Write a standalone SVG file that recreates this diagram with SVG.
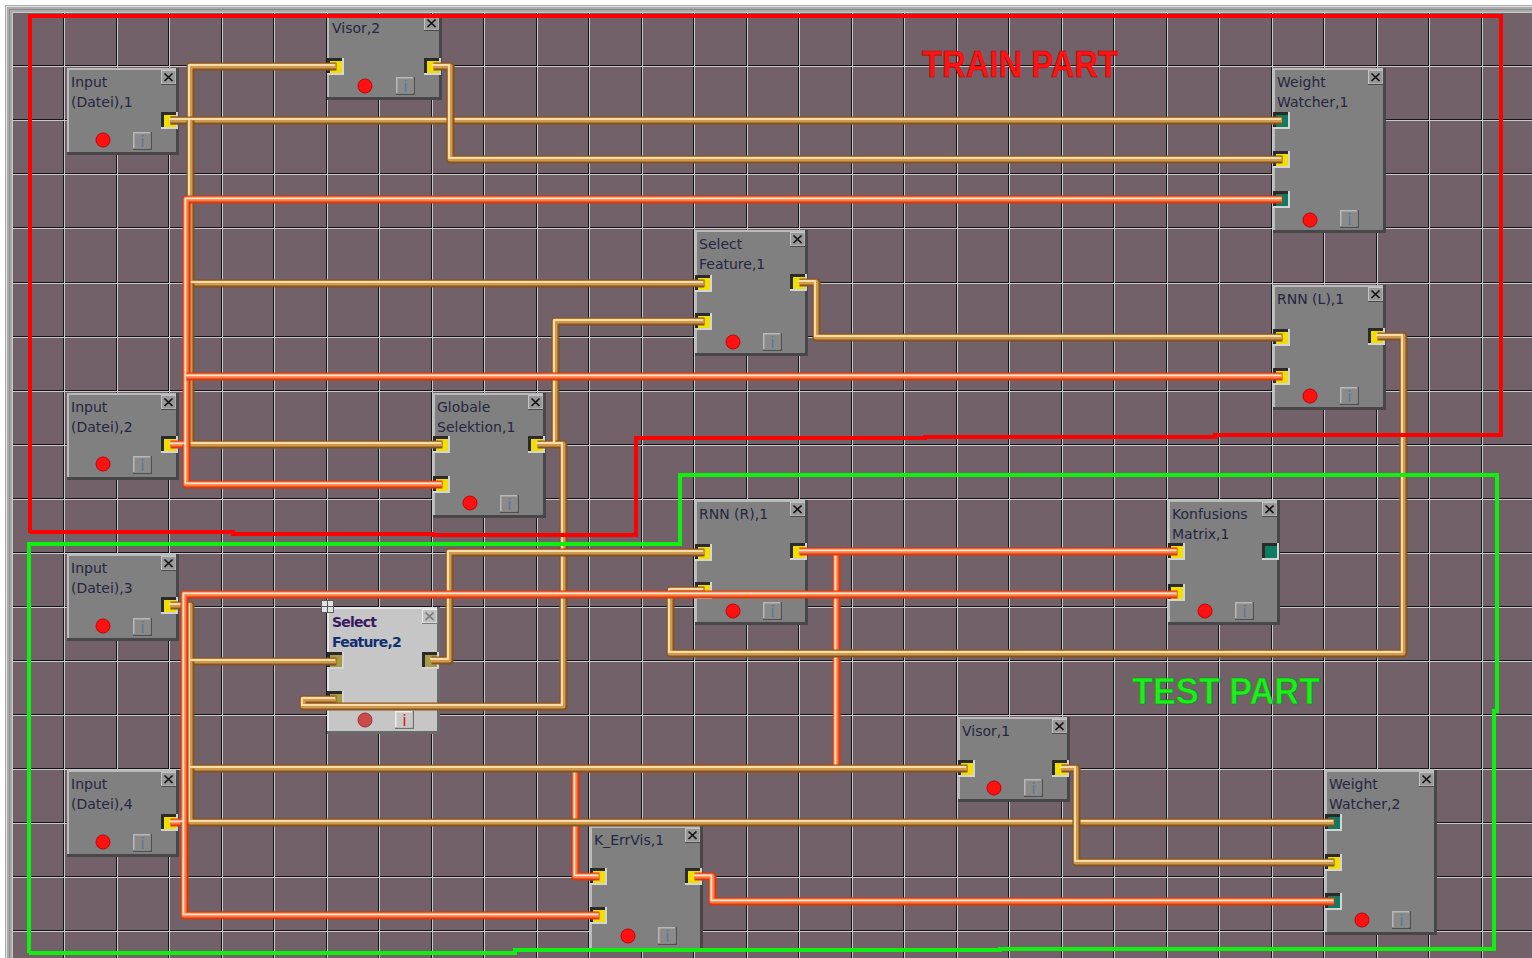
<svg xmlns="http://www.w3.org/2000/svg" xmlns:xlink="http://www.w3.org/1999/xlink" width="1532" height="958" viewBox="0 0 1532 958">
<style>
.body{fill:#808080}.hl{fill:#bababa}.sh{fill:#474747}
.t{font-family:"DejaVu Sans",sans-serif;font-size:14px;fill:#262640}
.cbd{fill:#4a4a4a}.cbl{fill:#c4c4c4}.cb{fill:#989898}.x{stroke:#111;stroke-width:1.7;fill:none}
.dot{fill:#ff1111;stroke:#c40000;stroke-width:1}
.ibd{fill:#505050}.ibl{fill:#b8b8b8}.ib{fill:#8a8a8a}
.it{font-family:"DejaVu Sans",sans-serif;font-size:16px;fill:#5d7896;text-anchor:middle}
.pl{fill:#d4d4d4}.pd{fill:#2a2a2a}.py{fill:#f2df00}.pt{fill:#0f7c62}
.sel .body{fill:#c6c6c6}.sel .hl{fill:#e6e6e6}.sel .sh{fill:#6a6a6a}
.sel .py{fill:#a89b45}.sel .dot{fill:#cc4a4a;stroke:#9a3030}
.sel .ib{fill:#c8c8c8}.sel .ibl{fill:#ececec}.sel .ibd{fill:#707070}
.sel .it{fill:#d01818}.sel .cb{fill:#c0c0c0}.sel .cbl{fill:#eeeeee}.sel .cbd{fill:#7a7a7a}.sel .x{stroke:#777}
.st{font-weight:bold;letter-spacing:-0.8px}
.gd{stroke:#151515;stroke-width:1;fill:none}.gl{stroke:#c9c9c9;stroke-width:1;fill:none}
.tan .o{stroke:#85531f;stroke-width:8}.tan .m{stroke:#d09a4e;stroke-width:5}.tan .h{stroke:#f6dca8;stroke-width:2}
.org .o{stroke:#d8380f;stroke-width:8}.org .m{stroke:#ff7a3c;stroke-width:5}.org .h{stroke:#ffe6d2;stroke-width:1.8}
.pipe use{stroke-linejoin:round;fill:none}
.frame{fill:none;stroke-width:4;stroke-linejoin:miter}
.lbl{font-family:"Liberation Sans",Arial,sans-serif;font-weight:bold;font-size:37px}
</style>
<defs>
<path id="T1" d="M170 120H190V66H336" fill="none"/>
<path id="T2" d="M170 120H1282" fill="none"/>
<path id="T3" d="M433 66H450V159H1282" fill="none"/>
<path id="T4" d="M190 120V283H704" fill="none"/>
<path id="T5" d="M190 283V444H442" fill="none"/>
<path id="T6" d="M537 444H555V321H704" fill="none"/>
<path id="T7" d="M555 444H563V706H303V699H336" fill="none"/>
<path id="T8" d="M799 282H816V337H1282" fill="none"/>
<path id="T9" d="M1377 336H1403V653H670V590H704" fill="none"/>
<path id="T10" d="M431 660H449V552H704" fill="none"/>
<path id="T11" d="M170 605H190V661H336" fill="none"/>
<path id="T12" d="M190 661V768H967" fill="none"/>
<path id="T13" d="M190 768V822H1334" fill="none"/>
<path id="T14" d="M1061 768H1076V862H1334" fill="none"/>
<path id="O1" d="M170 444H186V199H1282" fill="none"/>
<path id="O2" d="M186 376H1282" fill="none"/>
<path id="O3" d="M186 444V484H442" fill="none"/>
<path id="O4" d="M170 822H184V594H1177" fill="none"/>
<path id="O5" d="M184 822V915H599" fill="none"/>
<path id="O6" d="M799 551H1177" fill="none"/>
<path id="O7" d="M836 551V768H575V876H599" fill="none"/>
<path id="O8" d="M694 876H712V901H1334" fill="none"/>
</defs>

<rect width="1532" height="958" fill="#ffffff"/>
<rect x="5" y="5" width="1527" height="953" fill="#ababab"/>
<path d="M6.5 958V6.5H1532" stroke="#e2e2e2" stroke-width="1" fill="none"/>
<path d="M9.5 958V9.5H1532" stroke="#8a8a8a" stroke-width="1" fill="none"/>
<rect x="12" y="12" width="1520" height="946" fill="#736169"/>
<g id="grid">
<path class="gd" d="M63.5 12V958M116.5 12V958M168.5 12V958M221.5 12V958M273.5 12V958M326.5 12V958M378.5 12V958M431.5 12V958M483.5 12V958M536.5 12V958M588.5 12V958M641.5 12V958M693.5 12V958M746.5 12V958M798.5 12V958M851.5 12V958M903.5 12V958M956.5 12V958M1008.5 12V958M1061.5 12V958M1113.5 12V958M1166.5 12V958M1218.5 12V958M1271.5 12V958M1323.5 12V958M1376.5 12V958M1428.5 12V958M1481.5 12V958"/>
<path class="gd" d="M12 65.5H1532M12 119.5H1532M12 173.5H1532M12 227.5H1532M12 282.5H1532M12 336.5H1532M12 390.5H1532M12 444.5H1532M12 498.5H1532M12 552.5H1532M12 606.5H1532M12 660.5H1532M12 714.5H1532M12 768.5H1532M12 822.5H1532M12 876.5H1532M12 930.5H1532"/>
<path class="gl" d="M12.5 12V958M64.5 12V958M117.5 12V958M169.5 12V958M222.5 12V958M274.5 12V958M327.5 12V958M379.5 12V958M432.5 12V958M484.5 12V958M537.5 12V958M589.5 12V958M642.5 12V958M694.5 12V958M747.5 12V958M799.5 12V958M852.5 12V958M904.5 12V958M957.5 12V958M1009.5 12V958M1062.5 12V958M1114.5 12V958M1167.5 12V958M1219.5 12V958M1272.5 12V958M1324.5 12V958M1377.5 12V958M1429.5 12V958M1482.5 12V958"/>
<path class="gl" d="M12 12.5H1532M12 66.5H1532M12 120.5H1532M12 174.5H1532M12 228.5H1532M12 283.5H1532M12 337.5H1532M12 391.5H1532M12 445.5H1532M12 499.5H1532M12 553.5H1532M12 607.5H1532M12 661.5H1532M12 715.5H1532M12 769.5H1532M12 823.5H1532M12 877.5H1532M12 931.5H1532"/>
</g>

<g id="nodes">
<g id="n-input1" transform="translate(67,68)">
<rect class="sh" width="112" height="87"/><rect class="hl" width="109" height="84"/><rect class="body" x="2" y="2" width="107" height="82"/>
<text class="t" x="4" y="19">Input</text><text class="t" x="4" y="39">(Datei),1</text>
<g transform="translate(94,2)"><rect class="cbd" width="16" height="15"/><rect class="cbl" width="15" height="14"/><rect class="cb" x="1" y="1" width="13.5" height="12.5"/><path class="x" d="M3.5 3.5L11.5 11M11.5 3.5L3.5 11"/></g>
<circle class="dot" cx="36" cy="72" r="7"/>
<g transform="translate(66,64)"><rect class="ibd" width="19" height="18"/><rect class="ibl" width="17.5" height="16.5"/><rect class="ib" x="1.5" y="1.5" width="16" height="15"/><text class="it" x="9.5" y="15">i</text></g>
<g transform="translate(94,44)"><rect class="pl" width="17" height="17"/><rect class="pd" width="15" height="15"/><rect class="py" x="3" y="3" width="12" height="12"/></g>
</g>

<g id="n-visor2" transform="translate(327,14)">
<rect class="sh" width="115" height="86"/><rect class="hl" width="112" height="83"/><rect class="body" x="2" y="2" width="110" height="81"/>
<text class="t" x="5" y="19">Visor,2</text>
<g transform="translate(97,2)"><rect class="cbd" width="16" height="15"/><rect class="cbl" width="15" height="14"/><rect class="cb" x="1" y="1" width="13.5" height="12.5"/><path class="x" d="M3.5 3.5L11.5 11M11.5 3.5L3.5 11"/></g>
<circle class="dot" cx="38" cy="72" r="7"/>
<g transform="translate(69,63)"><rect class="ibd" width="19" height="18"/><rect class="ibl" width="17.5" height="16.5"/><rect class="ib" x="1.5" y="1.5" width="16" height="15"/><text class="it" x="9.5" y="15">i</text></g>
<g transform="translate(0,44)"><rect class="pl" width="17" height="17"/><rect class="pd" width="15" height="15"/><rect class="py" x="3" y="3" width="12" height="12"/></g>
<g transform="translate(97,44)"><rect class="pl" width="17" height="17"/><rect class="pd" width="15" height="15"/><rect class="py" x="3" y="3" width="12" height="12"/></g>
</g>

<g id="n-weightwatcher1" transform="translate(1273,68)">
<rect class="sh" width="113" height="165"/><rect class="hl" width="110" height="162"/><rect class="body" x="2" y="2" width="108" height="160"/>
<text class="t" x="4" y="19">Weight</text><text class="t" x="4" y="39">Watcher,1</text>
<g transform="translate(95,2)"><rect class="cbd" width="16" height="15"/><rect class="cbl" width="15" height="14"/><rect class="cb" x="1" y="1" width="13.5" height="12.5"/><path class="x" d="M3.5 3.5L11.5 11M11.5 3.5L3.5 11"/></g>
<circle class="dot" cx="37" cy="152" r="7"/>
<g transform="translate(67,142)"><rect class="ibd" width="19" height="18"/><rect class="ibl" width="17.5" height="16.5"/><rect class="ib" x="1.5" y="1.5" width="16" height="15"/><text class="it" x="9.5" y="15">i</text></g>
<g transform="translate(0,44)"><rect class="pl" width="17" height="17"/><rect class="pd" width="15" height="15"/><rect class="pt" x="3" y="3" width="12" height="12"/></g>
<g transform="translate(0,83)"><rect class="pl" width="17" height="17"/><rect class="pd" width="15" height="15"/><rect class="py" x="3" y="3" width="12" height="12"/></g>
<g transform="translate(0,123)"><rect class="pl" width="17" height="17"/><rect class="pd" width="15" height="15"/><rect class="pt" x="3" y="3" width="12" height="12"/></g>
</g>

<g id="n-selectfeature1" transform="translate(695,230)">
<rect class="sh" width="113" height="126"/><rect class="hl" width="110" height="123"/><rect class="body" x="2" y="2" width="108" height="121"/>
<text class="t" x="4" y="19">Select</text><text class="t" x="4" y="39">Feature,1</text>
<g transform="translate(95,2)"><rect class="cbd" width="16" height="15"/><rect class="cbl" width="15" height="14"/><rect class="cb" x="1" y="1" width="13.5" height="12.5"/><path class="x" d="M3.5 3.5L11.5 11M11.5 3.5L3.5 11"/></g>
<circle class="dot" cx="38" cy="112" r="7"/>
<g transform="translate(68,103)"><rect class="ibd" width="19" height="18"/><rect class="ibl" width="17.5" height="16.5"/><rect class="ib" x="1.5" y="1.5" width="16" height="15"/><text class="it" x="9.5" y="15">i</text></g>
<g transform="translate(0,45)"><rect class="pl" width="17" height="17"/><rect class="pd" width="15" height="15"/><rect class="py" x="3" y="3" width="12" height="12"/></g>
<g transform="translate(0,83)"><rect class="pl" width="17" height="17"/><rect class="pd" width="15" height="15"/><rect class="py" x="3" y="3" width="12" height="12"/></g>
<g transform="translate(95,44)"><rect class="pl" width="17" height="17"/><rect class="pd" width="15" height="15"/><rect class="py" x="3" y="3" width="12" height="12"/></g>
</g>

<g id="n-rnnl1" transform="translate(1273,285)">
<rect class="sh" width="113" height="125"/><rect class="hl" width="110" height="122"/><rect class="body" x="2" y="2" width="108" height="120"/>
<text class="t" x="4" y="19">RNN (L),1</text>
<g transform="translate(95,2)"><rect class="cbd" width="16" height="15"/><rect class="cbl" width="15" height="14"/><rect class="cb" x="1" y="1" width="13.5" height="12.5"/><path class="x" d="M3.5 3.5L11.5 11M11.5 3.5L3.5 11"/></g>
<circle class="dot" cx="37" cy="111" r="7"/>
<g transform="translate(67,102)"><rect class="ibd" width="19" height="18"/><rect class="ibl" width="17.5" height="16.5"/><rect class="ib" x="1.5" y="1.5" width="16" height="15"/><text class="it" x="9.5" y="15">i</text></g>
<g transform="translate(0,44)"><rect class="pl" width="17" height="17"/><rect class="pd" width="15" height="15"/><rect class="py" x="3" y="3" width="12" height="12"/></g>
<g transform="translate(0,83)"><rect class="pl" width="17" height="17"/><rect class="pd" width="15" height="15"/><rect class="py" x="3" y="3" width="12" height="12"/></g>
<g transform="translate(95,43)"><rect class="pl" width="17" height="17"/><rect class="pd" width="15" height="15"/><rect class="py" x="3" y="3" width="12" height="12"/></g>
</g>

<g id="n-input2" transform="translate(67,393)">
<rect class="sh" width="112" height="87"/><rect class="hl" width="109" height="84"/><rect class="body" x="2" y="2" width="107" height="82"/>
<text class="t" x="4" y="19">Input</text><text class="t" x="4" y="39">(Datei),2</text>
<g transform="translate(94,2)"><rect class="cbd" width="16" height="15"/><rect class="cbl" width="15" height="14"/><rect class="cb" x="1" y="1" width="13.5" height="12.5"/><path class="x" d="M3.5 3.5L11.5 11M11.5 3.5L3.5 11"/></g>
<circle class="dot" cx="36" cy="71" r="7"/>
<g transform="translate(66,63)"><rect class="ibd" width="19" height="18"/><rect class="ibl" width="17.5" height="16.5"/><rect class="ib" x="1.5" y="1.5" width="16" height="15"/><text class="it" x="9.5" y="15">i</text></g>
<g transform="translate(94,43)"><rect class="pl" width="17" height="17"/><rect class="pd" width="15" height="15"/><rect class="py" x="3" y="3" width="12" height="12"/></g>
</g>

<g id="n-globaleselektion1" transform="translate(433,393)">
<rect class="sh" width="113" height="125"/><rect class="hl" width="110" height="122"/><rect class="body" x="2" y="2" width="108" height="120"/>
<text class="t" x="4" y="19">Globale</text><text class="t" x="4" y="39">Selektion,1</text>
<g transform="translate(95,2)"><rect class="cbd" width="16" height="15"/><rect class="cbl" width="15" height="14"/><rect class="cb" x="1" y="1" width="13.5" height="12.5"/><path class="x" d="M3.5 3.5L11.5 11M11.5 3.5L3.5 11"/></g>
<circle class="dot" cx="37" cy="110" r="7"/>
<g transform="translate(67,102)"><rect class="ibd" width="19" height="18"/><rect class="ibl" width="17.5" height="16.5"/><rect class="ib" x="1.5" y="1.5" width="16" height="15"/><text class="it" x="9.5" y="15">i</text></g>
<g transform="translate(0,43)"><rect class="pl" width="17" height="17"/><rect class="pd" width="15" height="15"/><rect class="py" x="3" y="3" width="12" height="12"/></g>
<g transform="translate(0,83)"><rect class="pl" width="17" height="17"/><rect class="pd" width="15" height="15"/><rect class="py" x="3" y="3" width="12" height="12"/></g>
<g transform="translate(95,43)"><rect class="pl" width="17" height="17"/><rect class="pd" width="15" height="15"/><rect class="py" x="3" y="3" width="12" height="12"/></g>
</g>

<g id="n-rnnr1" transform="translate(695,500)">
<rect class="sh" width="113" height="125"/><rect class="hl" width="110" height="122"/><rect class="body" x="2" y="2" width="108" height="120"/>
<text class="t" x="4" y="19">RNN (R),1</text>
<g transform="translate(95,2)"><rect class="cbd" width="16" height="15"/><rect class="cbl" width="15" height="14"/><rect class="cb" x="1" y="1" width="13.5" height="12.5"/><path class="x" d="M3.5 3.5L11.5 11M11.5 3.5L3.5 11"/></g>
<circle class="dot" cx="38" cy="111" r="7"/>
<g transform="translate(68,102)"><rect class="ibd" width="19" height="18"/><rect class="ibl" width="17.5" height="16.5"/><rect class="ib" x="1.5" y="1.5" width="16" height="15"/><text class="it" x="9.5" y="15">i</text></g>
<g transform="translate(0,44)"><rect class="pl" width="17" height="17"/><rect class="pd" width="15" height="15"/><rect class="py" x="3" y="3" width="12" height="12"/></g>
<g transform="translate(0,82)"><rect class="pl" width="17" height="17"/><rect class="pd" width="15" height="15"/><rect class="py" x="3" y="3" width="12" height="12"/></g>
<g transform="translate(95,43)"><rect class="pl" width="17" height="17"/><rect class="pd" width="15" height="15"/><rect class="py" x="3" y="3" width="12" height="12"/></g>
</g>

<g id="n-konfusionsmatrix1" transform="translate(1168,500)">
<rect class="sh" width="112" height="125"/><rect class="hl" width="109" height="122"/><rect class="body" x="2" y="2" width="107" height="120"/>
<text class="t" x="4" y="19">Konfusions</text><text class="t" x="4" y="39">Matrix,1</text>
<g transform="translate(94,2)"><rect class="cbd" width="16" height="15"/><rect class="cbl" width="15" height="14"/><rect class="cb" x="1" y="1" width="13.5" height="12.5"/><path class="x" d="M3.5 3.5L11.5 11M11.5 3.5L3.5 11"/></g>
<circle class="dot" cx="37" cy="111" r="7"/>
<g transform="translate(67,102)"><rect class="ibd" width="19" height="18"/><rect class="ibl" width="17.5" height="16.5"/><rect class="ib" x="1.5" y="1.5" width="16" height="15"/><text class="it" x="9.5" y="15">i</text></g>
<g transform="translate(0,43)"><rect class="pl" width="17" height="17"/><rect class="pd" width="15" height="15"/><rect class="py" x="3" y="3" width="12" height="12"/></g>
<g transform="translate(0,84)"><rect class="pl" width="17" height="17"/><rect class="pd" width="15" height="15"/><rect class="py" x="3" y="3" width="12" height="12"/></g>
<g transform="translate(94,43)"><rect class="pl" width="17" height="17"/><rect class="pd" width="15" height="15"/><rect class="pt" x="3" y="3" width="12" height="12"/></g>
</g>

<g id="n-input3" transform="translate(67,554)">
<rect class="sh" width="112" height="87"/><rect class="hl" width="109" height="84"/><rect class="body" x="2" y="2" width="107" height="82"/>
<text class="t" x="4" y="19">Input</text><text class="t" x="4" y="39">(Datei),3</text>
<g transform="translate(94,2)"><rect class="cbd" width="16" height="15"/><rect class="cbl" width="15" height="14"/><rect class="cb" x="1" y="1" width="13.5" height="12.5"/><path class="x" d="M3.5 3.5L11.5 11M11.5 3.5L3.5 11"/></g>
<circle class="dot" cx="36" cy="72" r="7"/>
<g transform="translate(66,64)"><rect class="ibd" width="19" height="18"/><rect class="ibl" width="17.5" height="16.5"/><rect class="ib" x="1.5" y="1.5" width="16" height="15"/><text class="it" x="9.5" y="15">i</text></g>
<g transform="translate(94,43)"><rect class="pl" width="17" height="17"/><rect class="pd" width="15" height="15"/><rect class="py" x="3" y="3" width="12" height="12"/></g>
</g>

<g id="n-selectfeature2" class="sel" transform="translate(327,607)">
<rect class="sh" width="113" height="127"/><rect class="hl" width="110" height="124"/><rect class="body" x="2" y="2" width="108" height="122"/>
<text class="t st" x="5" y="20" style="fill:#3a1860">Select</text><text class="t st" x="5" y="40" style="fill:#123070">Feature,2</text>
<g transform="translate(95,2)"><rect class="cbd" width="16" height="15"/><rect class="cbl" width="15" height="14"/><rect class="cb" x="1" y="1" width="13.5" height="12.5"/><path class="x" d="M3.5 3.5L11.5 11M11.5 3.5L3.5 11"/></g>
<circle class="dot" cx="38" cy="113" r="7"/>
<g transform="translate(68,104)"><rect class="ibd" width="19" height="18"/><rect class="ibl" width="17.5" height="16.5"/><rect class="ib" x="1.5" y="1.5" width="16" height="15"/><text class="it" x="9.5" y="15">i</text></g>
<g transform="translate(0,45)"><rect class="pl" width="17" height="17"/><rect class="pd" width="15" height="15"/><rect class="py" x="3" y="3" width="12" height="12"/></g>
<g transform="translate(0,84)"><rect class="pl" width="17" height="17"/><rect class="pd" width="15" height="15"/><rect class="py" x="3" y="3" width="12" height="12"/></g>
<g transform="translate(95,45)"><rect class="pl" width="17" height="17"/><rect class="pd" width="15" height="15"/><rect class="py" x="3" y="3" width="12" height="12"/></g>
<g transform="translate(-6,-7)"><rect width="13" height="13" fill="#5a5a5a"/><rect x="1" y="1" width="5" height="5" fill="#e2e2e2"/><rect x="7" y="1" width="5" height="5" fill="#e2e2e2"/><rect x="1" y="7" width="5" height="5" fill="#e2e2e2"/><rect x="7" y="7" width="5" height="5" fill="#e2e2e2"/></g>
</g>

<g id="n-visor1" transform="translate(958,717)">
<rect class="sh" width="112" height="85"/><rect class="hl" width="109" height="82"/><rect class="body" x="2" y="2" width="107" height="80"/>
<text class="t" x="4" y="19">Visor,1</text>
<g transform="translate(94,2)"><rect class="cbd" width="16" height="15"/><rect class="cbl" width="15" height="14"/><rect class="cb" x="1" y="1" width="13.5" height="12.5"/><path class="x" d="M3.5 3.5L11.5 11M11.5 3.5L3.5 11"/></g>
<circle class="dot" cx="36" cy="71" r="7"/>
<g transform="translate(66,62)"><rect class="ibd" width="19" height="18"/><rect class="ibl" width="17.5" height="16.5"/><rect class="ib" x="1.5" y="1.5" width="16" height="15"/><text class="it" x="9.5" y="15">i</text></g>
<g transform="translate(0,43)"><rect class="pl" width="17" height="17"/><rect class="pd" width="15" height="15"/><rect class="py" x="3" y="3" width="12" height="12"/></g>
<g transform="translate(94,43)"><rect class="pl" width="17" height="17"/><rect class="pd" width="15" height="15"/><rect class="py" x="3" y="3" width="12" height="12"/></g>
</g>

<g id="n-input4" transform="translate(67,770)">
<rect class="sh" width="112" height="87"/><rect class="hl" width="109" height="84"/><rect class="body" x="2" y="2" width="107" height="82"/>
<text class="t" x="4" y="19">Input</text><text class="t" x="4" y="39">(Datei),4</text>
<g transform="translate(94,2)"><rect class="cbd" width="16" height="15"/><rect class="cbl" width="15" height="14"/><rect class="cb" x="1" y="1" width="13.5" height="12.5"/><path class="x" d="M3.5 3.5L11.5 11M11.5 3.5L3.5 11"/></g>
<circle class="dot" cx="36" cy="72" r="7"/>
<g transform="translate(66,64)"><rect class="ibd" width="19" height="18"/><rect class="ibl" width="17.5" height="16.5"/><rect class="ib" x="1.5" y="1.5" width="16" height="15"/><text class="it" x="9.5" y="15">i</text></g>
<g transform="translate(94,44)"><rect class="pl" width="17" height="17"/><rect class="pd" width="15" height="15"/><rect class="py" x="3" y="3" width="12" height="12"/></g>
</g>

<g id="n-weightwatcher2" transform="translate(1325,770)">
<rect class="sh" width="112" height="165"/><rect class="hl" width="109" height="162"/><rect class="body" x="2" y="2" width="107" height="160"/>
<text class="t" x="4" y="19">Weight</text><text class="t" x="4" y="39">Watcher,2</text>
<g transform="translate(94,2)"><rect class="cbd" width="16" height="15"/><rect class="cbl" width="15" height="14"/><rect class="cb" x="1" y="1" width="13.5" height="12.5"/><path class="x" d="M3.5 3.5L11.5 11M11.5 3.5L3.5 11"/></g>
<circle class="dot" cx="37" cy="150" r="7"/>
<g transform="translate(67,141)"><rect class="ibd" width="19" height="18"/><rect class="ibl" width="17.5" height="16.5"/><rect class="ib" x="1.5" y="1.5" width="16" height="15"/><text class="it" x="9.5" y="15">i</text></g>
<g transform="translate(0,44)"><rect class="pl" width="17" height="17"/><rect class="pd" width="15" height="15"/><rect class="pt" x="3" y="3" width="12" height="12"/></g>
<g transform="translate(0,84)"><rect class="pl" width="17" height="17"/><rect class="pd" width="15" height="15"/><rect class="py" x="3" y="3" width="12" height="12"/></g>
<g transform="translate(0,123)"><rect class="pl" width="17" height="17"/><rect class="pd" width="15" height="15"/><rect class="pt" x="3" y="3" width="12" height="12"/></g>
</g>

<g id="n-kerrvis1" transform="translate(590,826)">
<rect class="sh" width="113" height="126"/><rect class="hl" width="110" height="123"/><rect class="body" x="2" y="2" width="108" height="121"/>
<text class="t" x="4" y="19">K_ErrVis,1</text>
<g transform="translate(95,2)"><rect class="cbd" width="16" height="15"/><rect class="cbl" width="15" height="14"/><rect class="cb" x="1" y="1" width="13.5" height="12.5"/><path class="x" d="M3.5 3.5L11.5 11M11.5 3.5L3.5 11"/></g>
<circle class="dot" cx="38" cy="110" r="7"/>
<g transform="translate(68,101)"><rect class="ibd" width="19" height="18"/><rect class="ibl" width="17.5" height="16.5"/><rect class="ib" x="1.5" y="1.5" width="16" height="15"/><text class="it" x="9.5" y="15">i</text></g>
<g transform="translate(0,42)"><rect class="pl" width="17" height="17"/><rect class="pd" width="15" height="15"/><rect class="py" x="3" y="3" width="12" height="12"/></g>
<g transform="translate(0,81)"><rect class="pl" width="17" height="17"/><rect class="pd" width="15" height="15"/><rect class="py" x="3" y="3" width="12" height="12"/></g>
<g transform="translate(95,42)"><rect class="pl" width="17" height="17"/><rect class="pd" width="15" height="15"/><rect class="py" x="3" y="3" width="12" height="12"/></g>
</g>
</g>

<g id="connectors">
<g class="pipe org"><use href="#O7" class="o" x="0.5" y="0.5"/><use href="#O7" class="m"/><use href="#O7" class="h" x="-0.6" y="-0.6"/></g>
<g class="pipe tan">
<use href="#T1" class="o" x="0.5" y="0.5"/><use href="#T1" class="m"/><use href="#T1" class="h" x="-1" y="-1"/>
<use href="#T2" class="o" x="0.5" y="0.5"/><use href="#T2" class="m"/><use href="#T2" class="h" x="-1" y="-1"/>
<use href="#T3" class="o" x="0.5" y="0.5"/><use href="#T3" class="m"/><use href="#T3" class="h" x="-1" y="-1"/>
<use href="#T4" class="o" x="0.5" y="0.5"/><use href="#T4" class="m"/><use href="#T4" class="h" x="-1" y="-1"/>
<use href="#T5" class="o" x="0.5" y="0.5"/><use href="#T5" class="m"/><use href="#T5" class="h" x="-1" y="-1"/>
<use href="#T6" class="o" x="0.5" y="0.5"/><use href="#T6" class="m"/><use href="#T6" class="h" x="-1" y="-1"/>
<use href="#T7" class="o" x="0.5" y="0.5"/><use href="#T7" class="m"/><use href="#T7" class="h" x="-1" y="-1"/>
<use href="#T8" class="o" x="0.5" y="0.5"/><use href="#T8" class="m"/><use href="#T8" class="h" x="-1" y="-1"/>
<use href="#T9" class="o" x="0.5" y="0.5"/><use href="#T9" class="m"/><use href="#T9" class="h" x="-1" y="-1"/>
<use href="#T10" class="o" x="0.5" y="0.5"/><use href="#T10" class="m"/><use href="#T10" class="h" x="-1" y="-1"/>
<use href="#T11" class="o" x="0.5" y="0.5"/><use href="#T11" class="m"/><use href="#T11" class="h" x="-1" y="-1"/>
<use href="#T12" class="o" x="0.5" y="0.5"/><use href="#T12" class="m"/><use href="#T12" class="h" x="-1" y="-1"/>
<use href="#T13" class="o" x="0.5" y="0.5"/><use href="#T13" class="m"/><use href="#T13" class="h" x="-1" y="-1"/>
<use href="#T14" class="o" x="0.5" y="0.5"/><use href="#T14" class="m"/><use href="#T14" class="h" x="-1" y="-1"/>
</g>
<g class="pipe org">
<use href="#O1" class="o" x="0.5" y="0.5"/><use href="#O1" class="m"/><use href="#O1" class="h" x="-0.6" y="-0.6"/>
<use href="#O2" class="o" x="0.5" y="0.5"/><use href="#O2" class="m"/><use href="#O2" class="h" x="-0.6" y="-0.6"/>
<use href="#O3" class="o" x="0.5" y="0.5"/><use href="#O3" class="m"/><use href="#O3" class="h" x="-0.6" y="-0.6"/>
<use href="#O4" class="o" x="0.5" y="0.5"/><use href="#O4" class="m"/><use href="#O4" class="h" x="-0.6" y="-0.6"/>
<use href="#O5" class="o" x="0.5" y="0.5"/><use href="#O5" class="m"/><use href="#O5" class="h" x="-0.6" y="-0.6"/>
<use href="#O6" class="o" x="0.5" y="0.5"/><use href="#O6" class="m"/><use href="#O6" class="h" x="-0.6" y="-0.6"/>
<use href="#O8" class="o" x="0.5" y="0.5"/><use href="#O8" class="m"/><use href="#O8" class="h" x="-0.6" y="-0.6"/>
</g>
</g>

<g id="train-part">
<path class="frame" stroke="#ff0000" d="M30 533V16H1501V435H1215V437H925V438H636V535H433V534H233V532H30"/>
<text class="lbl" x="922" y="77" textLength="196" lengthAdjust="spacingAndGlyphs" fill="#ff1414" stroke="#b00000" stroke-width="0.6">TRAIN PART</text>
</g>
<g id="test-part">
<path class="frame" stroke="#10f010" d="M29 953V544H680V475H1497V711H1494V949H1000V950H515V953H29"/>
<text class="lbl" x="1132" y="704" textLength="188" lengthAdjust="spacingAndGlyphs" fill="#1cf01c" stroke="#0a8a0a" stroke-width="0.6">TEST PART</text>
</g>
</svg>
